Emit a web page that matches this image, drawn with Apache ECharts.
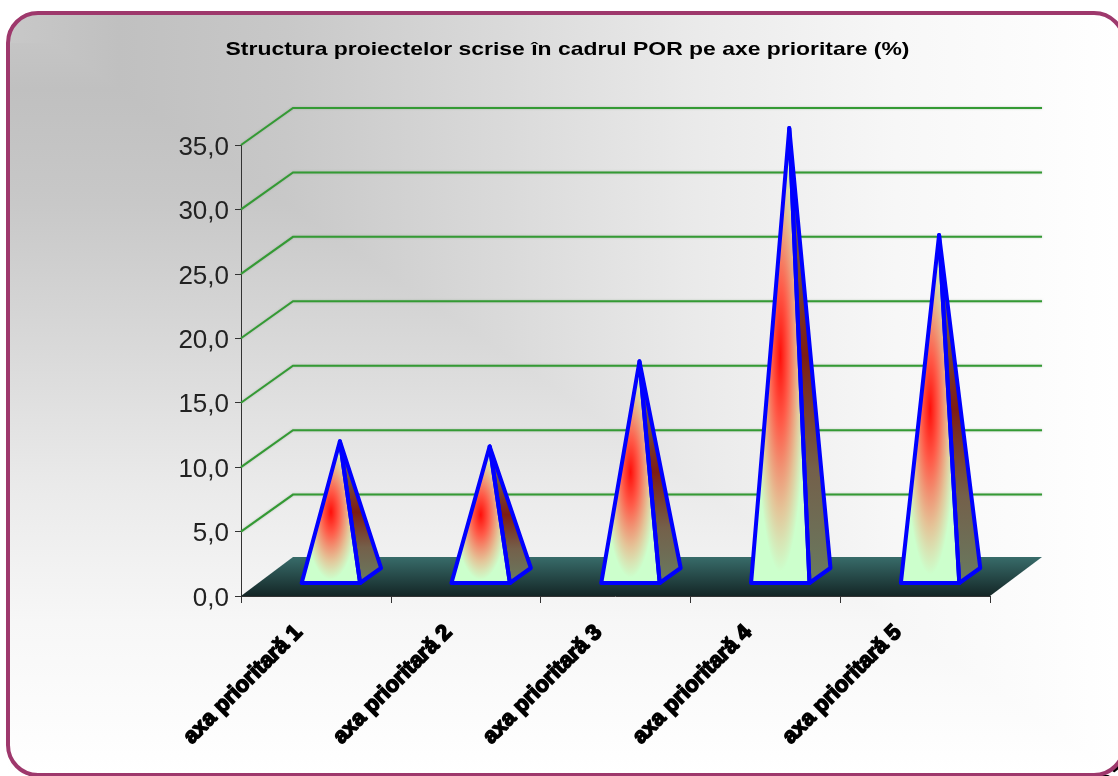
<!DOCTYPE html>
<html>
<head>
<meta charset="utf-8">
<style>
    html, body { margin: 0; padding: 0; background: #fff; }
    #chart { width: 1118px; height: 776px; }
</style>
</head>
<body>
<div id="chart"></div>
<script src="https://cdn.jsdelivr.net/npm/echarts@6/dist/echarts.min.js"></script>
<script>
    const titleText = 'Structura proiectelor scrise în cadrul POR pe axe prioritare (%)';
    const categories = ['axa prioritară 1', 'axa prioritară 2', 'axa prioritară 3', 'axa prioritară 4', 'axa prioritară 5'];
    const values = [10.5, 10.1, 16.7, 34.8, 26.5];
    const wallTicks = [5, 10, 15, 20, 25, 30, 35];

    // fake 3d depth of the plot, in px
    const DEPTH_X = 52;
    const DEPTH_Y = 37;

    // the picture background gets lighter in rectangular bands from the top left corner
    const bgStops = [
        { offset: 0, color: '#c8c8c8' },
        { offset: 0.1, color: '#c0c0c0' },
        { offset: 0.25, color: '#c8c8c8' },
        { offset: 0.45, color: '#dadada' },
        { offset: 0.62, color: '#eaeaea' },
        { offset: 0.8, color: '#f7f7f7' },
        { offset: 1, color: '#ffffff' },
    ];

    const chart = echarts.init(document.getElementById('chart'));

    function renderWall(params, api) {
        const rect = params.coordSys;
        const p = api.coord([0, api.value(1)]);
        return {
            type: 'polyline',
            shape: {
                points: [
                    [rect.x, p[1]],
                    [rect.x + DEPTH_X, p[1] - DEPTH_Y],
                    [rect.x + rect.width + DEPTH_X, p[1] - DEPTH_Y],
                ],
            },
            style: {
                fill: null,
                stroke: '#349a34',
                lineWidth: 2,
                shadowColor: 'rgba(110,150,110,0.5)',
                shadowBlur: 2,
            },
        };
    }

    function renderFloor(params) {
        const rect = params.coordSys;
        const bottom = rect.y + rect.height;
        return {
            type: 'polygon',
            shape: {
                points: [
                    [rect.x, bottom],
                    [rect.x + DEPTH_X, bottom - DEPTH_Y - 2],
                    [rect.x + rect.width + DEPTH_X, bottom - DEPTH_Y - 2],
                    [rect.x + rect.width, bottom],
                ],
            },
            style: {
                fill: new echarts.graphic.LinearGradient(0, 0, 0, 1, [
                    { offset: 0, color: '#386c6a' },
                    { offset: 1, color: '#142626' },
                ]),
            },
        };
    }

    function renderPyramid(params, api) {
        const top = api.coord([api.value(0), api.value(1)]);
        const zero = api.coord([api.value(0), 0]);
        const band = api.size([1, 0])[0];

        const tip = [top[0] + band * 0.16, top[1] - 19.5];
        const frontY = zero[1] - 13;
        const backY = zero[1] - 28;
        const fl = [tip[0] - band * 0.255, frontY];
        const fr = [tip[0] + band * 0.135, frontY];
        const br = [tip[0] + band * 0.275, backY];

        // elliptical red glow: the face is drawn in a scaled local space
        const cx = (fl[0] + fr[0]) / 2;
        const cy = (tip[1] + frontY) / 2;
        const sx = (fr[0] - fl[0]) * 0.46 / 50;
        const sy = (frontY - tip[1]) * 0.5 / 50;
        const local = (pt) => [(pt[0] - cx) / sx, (pt[1] - cy) / sy];

        return {
            type: 'group',
            children: [
                {
                    type: 'polygon',
                    x: cx,
                    y: cy,
                    scaleX: sx,
                    scaleY: sy,
                    shape: { points: [local(fl), local(fr), local(tip)] },
                    style: {
                        fill: new echarts.graphic.RadialGradient(0, 0, 50, [
                            { offset: 0, color: '#ff0f0a' },
                            { offset: 0.3, color: '#ff5a48' },
                            { offset: 0.5, color: '#f09474' },
                            { offset: 0.68, color: '#e4c498' },
                            { offset: 0.82, color: '#d8e4b4' },
                            { offset: 0.95, color: '#ccffcc' },
                        ], true),
                    },
                },
                {
                    type: 'polygon',
                    shape: { points: [fr, br, tip] },
                    style: {
                        fill: new echarts.graphic.LinearGradient(0, 0, 0, 1, [
                            { offset: 0, color: '#6c7c60' },
                            { offset: 0.2, color: '#74604a' },
                            { offset: 0.5, color: '#7e1c12' },
                            { offset: 0.75, color: '#74604a' },
                            { offset: 1, color: '#687a60' },
                        ]),
                    },
                },
                {
                    type: 'polygon',
                    shape: { points: [fl, fr, tip] },
                    style: { fill: null, stroke: '#0000ff', lineWidth: 4, lineJoin: 'round' },
                },
                {
                    type: 'polygon',
                    shape: { points: [fr, br, tip] },
                    style: { fill: null, stroke: '#0000ff', lineWidth: 4, lineJoin: 'round' },
                },
            ],
        };
    }

    chart.setOption({
        animation: false,
        graphic: [
            // black shadow, only shows at the bottom corners
            {
                type: 'rect',
                shape: { x: 11, y: 16, width: 1116, height: 762, r: 30 },
                style: { fill: '#000' },
            },
            {
                type: 'rect',
                shape: { x: 8, y: 13, width: 1116, height: 762, r: 30 },
                style: {
                    fill: new echarts.graphic.LinearGradient(8, 0, 1118, 0, bgStops, true),
                },
            },
            {
                type: 'polygon',
                shape: { points: [[8, 43], [52, 43], [1118, 775], [8, 775]] },
                style: {
                    fill: new echarts.graphic.LinearGradient(0, 13, 0, 775, bgStops, true),
                },
            },
            {
                type: 'rect',
                shape: { x: 8, y: 13, width: 1116, height: 762, r: 30 },
                style: { fill: null, stroke: '#9e386c', lineWidth: 4 },
            },
            {
                type: 'text',
                x: 567.5,
                y: 50,
                scaleX: 1.206,
                style: {
                    text: titleText,
                    font: 'bold 19px "Liberation Sans"',
                    fill: '#000',
                    align: 'center',
                    verticalAlign: 'middle',
                },
            },
        ],
        grid: { left: 241, right: 128, top: 145, bottom: 180 },
        xAxis: {
            type: 'category',
            data: categories,
            axisLine: { lineStyle: { color: '#333', width: 1 } },
            axisTick: { show: true, length: 7, lineStyle: { color: '#333' } },
            axisLabel: {
                interval: 0,
                rotate: 45,
                margin: 16,
                padding: [0, 24, 0, 0],
                fontFamily: 'Liberation Sans',
                fontSize: 22,
                fontWeight: 'bold',
                color: '#000',
                textBorderColor: '#000',
                textBorderWidth: 1.6,
            },
        },
        yAxis: {
            type: 'value',
            min: 0,
            max: 35,
            interval: 5,
            splitLine: { show: false },
            axisLine: { show: true, lineStyle: { color: '#333', width: 1 } },
            axisTick: { show: true, length: 6, lineStyle: { color: '#333' } },
            axisLabel: {
                margin: 12,
                formatter: (v) => '{n|' + v.toFixed(1).replace('.', ',') + '}',
                rich: {
                    n: {
                        padding: [5, 0, 0, 0],
                        fontFamily: 'Liberation Sans',
                        fontSize: 26,
                        color: '#222',
                    },
                },
            },
        },
        series: [
            {
                type: 'custom',
                name: 'wall',
                z: 1,
                silent: true,
                renderItem: renderWall,
                data: wallTicks.map((t) => [0, t]),
            },
            {
                type: 'custom',
                name: 'floor',
                z: 2,
                silent: true,
                renderItem: renderFloor,
                data: [[0, 0]],
            },
            {
                type: 'custom',
                name: 'pyramids',
                z: 3,
                renderItem: renderPyramid,
                data: values.map((v, i) => [i, v]),
            },
        ],
    });
</script>
</body>
</html>
